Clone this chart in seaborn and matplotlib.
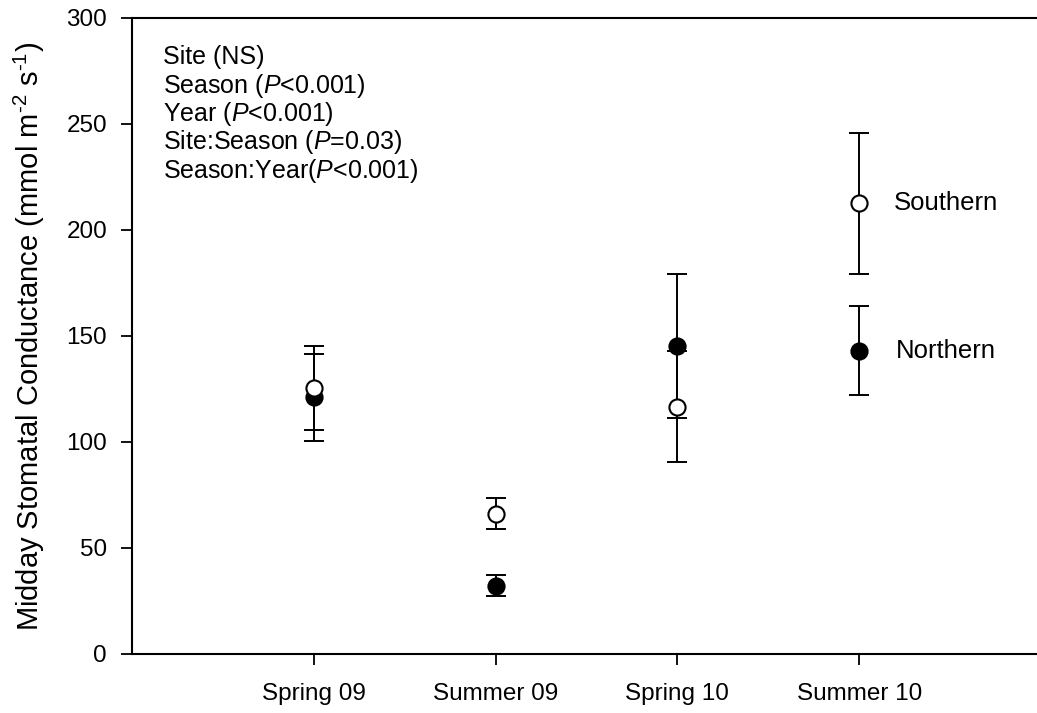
import matplotlib
matplotlib.use("Agg")
import matplotlib.pyplot as plt
import seaborn as sns
import pandas as pd

# Season means and standard errors of midday stomatal conductance
seasons = ["Spring 09", "Summer 09", "Spring 10", "Summer 10"]
northern_mean = [121.0, 32.3, 145.3, 143.1]
northern_err = [20.5, 5.0, 33.8, 21.0]
southern_mean = [125.5, 66.2, 116.7, 212.6]
southern_err = [19.8, 7.3, 26.3, 33.3]
stats_lines = [
    "Site (NS)",
    r"Season ($\mathit{P}$<0.001)",
    r"Year ($\mathit{P}$<0.001)",
    r"Site:Season ($\mathit{P}$=0.03)",
    r"Season:Year($\mathit{P}$<0.001)",
]
y_ticks = [0, 50, 100, 150, 200, 250, 300]

sns.set_style("ticks")
plt.rcParams["font.family"] = ["Liberation Sans", "DejaVu Sans"]
plt.rcParams["mathtext.fontset"] = "custom"
plt.rcParams["mathtext.rm"] = "Liberation Sans"
plt.rcParams["mathtext.it"] = "Liberation Sans:italic"
plt.rcParams["mathtext.default"] = "regular"
plt.rcParams["text.color"] = "black"
plt.rcParams["axes.labelcolor"] = "black"

fig = plt.figure(figsize=(10.37, 7.13), dpi=100)
ax = fig.add_axes([132 / 1037, 59 / 713, 909 / 1037, 636 / 713])

df = pd.DataFrame({
    "season": seasons * 2,
    "pos": list(range(len(seasons))) * 2,
    "mean": northern_mean + southern_mean,
    "err": northern_err + southern_err,
    "site": ["Northern"] * 4 + ["Southern"] * 4,
})

face = {"Northern": "black", "Southern": "white"}
for site in ["Northern", "Southern"]:
    sub = df[df["site"] == site]
    ax.errorbar(sub["pos"], sub["mean"], yerr=sub["err"], fmt="none",
                ecolor="black", elinewidth=1.4, capsize=7, capthick=1.4,
                zorder=2)
    sns.scatterplot(data=sub, x="pos", y="mean", ax=ax, s=135,
                    color=face[site], edgecolor="black", linewidth=1.5,
                    marker="o", zorder=3, legend=False)

ax.set_xlim(-1, 4)
ax.set_ylim(0, 300)
ax.set_xticks(range(len(seasons)))
ax.set_xticklabels(seasons)
ax.set_yticks(y_ticks)
ax.tick_params(axis="both", direction="out", length=8, width=1.3,
               labelsize=17.5, colors="black")
ax.tick_params(axis="y", pad=10)
ax.tick_params(axis="x", pad=13)
for side in ["left", "bottom", "top"]:
    ax.spines[side].set_linewidth(1.5)
    ax.spines[side].set_color("black")
ax.spines["right"].set_visible(False)

ax.set_xlabel("")
ax.set_ylabel(r"Midday Stomatal Conductance (mmol m$^{\text{-2}}$ s$^{\text{-1}}$)",
              fontsize=21, labelpad=14)

for i, line in enumerate(stats_lines):
    ax.text(0.034, 0.927 - i * 0.0445, line, transform=ax.transAxes,
            fontsize=18, va="baseline", ha="left")

ax.text(3.19, southern_mean[3], "Southern", fontsize=18.5, va="center", ha="left")
ax.text(3.20, northern_mean[3], "Northern", fontsize=18.5, va="center", ha="left")

fig.savefig("out.png", dpi=100)
